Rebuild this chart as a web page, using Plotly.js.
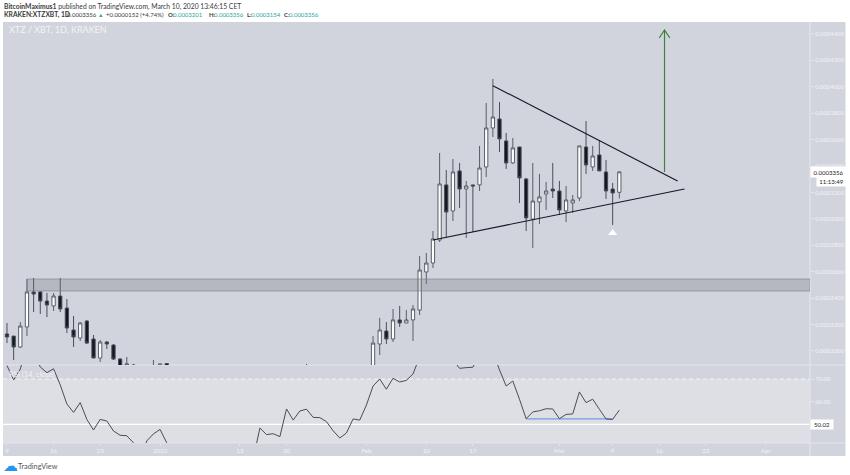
<!DOCTYPE html>
<html><head><meta charset="utf-8">
<script src="https://cdn.plot.ly/plotly-3.0.1.min.js"></script>
<style>html,body{margin:0;padding:0;background:#fff}#c{width:850px;height:475px}</style></head>
<body><div id="c"></div>
<script>
const candleDates=["2019-12-09","2019-12-10","2019-12-11","2019-12-12","2019-12-13","2019-12-14","2019-12-15","2019-12-16","2019-12-17","2019-12-18","2019-12-19","2019-12-20","2019-12-21","2019-12-22","2019-12-23","2019-12-24","2019-12-25","2019-12-26","2019-12-27","2019-12-28","2019-12-31","2020-01-01","2020-01-02","2020-01-23",
"2020-02-02","2020-02-03","2020-02-04","2020-02-05","2020-02-06","2020-02-07","2020-02-08","2020-02-09","2020-02-10","2020-02-11","2020-02-12","2020-02-13","2020-02-14","2020-02-15","2020-02-16","2020-02-17","2020-02-18","2020-02-19","2020-02-20","2020-02-21","2020-02-22","2020-02-23","2020-02-24","2020-02-25","2020-02-26","2020-02-27","2020-02-28","2020-02-29",
"2020-03-01","2020-03-02","2020-03-03","2020-03-04","2020-03-05","2020-03-06","2020-03-07","2020-03-08","2020-03-09","2020-03-10"];
const openVals=[.0002129,.0002113,.0002030,.0002182,.0002447,.0002447,.0002378,.0002341,.0002416,.0002325,.0002159,.0002098,.0002227,.0002091,.0001947,.0002068,.0002045,.0001939,.0001894,.0001894,.0001860,.0001860,.0001905,.0001860,
.0001860,.0002053,.0002151,.0002091,.0002235,.0002212,.0002235,.0002310,.0002598,.0002666,.0002840,.0003257,.0003060,.0003363,.0003226,.0003257,.0003257,.0003393,.0003688,.0003756,.0003590,.0003423,.0003544,.0003302,.0002999,.0003128,.0003188,.0003226,
.0003211,.0003060,.0003120,.0003158,.0003544,.0003393,.0003484,.0003355,.0003226,.0003201];
const highVals=[.0002212,.0002113,.0002219,.0002545,.0002553,.0002454,.0002439,.0002439,.0002553,.0002394,.0002265,.0002219,.0002235,.0002121,.0002083,.0002076,.0002053,.0001947,.0001955,.0001902,.0001932,.0001909,.0001909,.0001902,
.0002113,.0002250,.0002219,.0002318,.0002341,.0002310,.0002348,.0002719,.0002742,.0002908,.0003499,.0003370,.0003453,.0003423,.0003287,.0003257,.0003552,.0003877,.0004059,.0003885,.0003650,.0003612,.0003544,.0003310,.0003423,.0003340,.0003279,.0003423,
.0003287,.0003249,.0003181,.0003552,.0003741,.0003552,.0003590,.0003446,.0003272,.0003356];
const lowVals=[.0002060,.0001932,.0002023,.0002113,.0002295,.0002280,.0002257,.0002303,.0002295,.0002136,.0002030,.0002076,.0002053,.0001947,.0001917,.0002015,.0001932,.0001841,.0001871,.0001856,.0001840,.0001850,.0001850,.0001850,
.0001840,.0001970,.0002053,.0002068,.0002182,.0002212,.0002076,.0002272,.0002507,.0002628,.0002825,.0002863,.0002984,.0003082,.0002855,.0002901,.0003211,.0003317,.0003620,.0003506,.0003378,.0003416,.0003120,.0002908,.0002780,.0002961,.0003067,.0003158,
.0003029,.0002976,.0003045,.0003135,.0003340,.0003363,.0003363,.0003151,.0002954,.0003154];
const closeVals=[.0002106,.0002030,.0002189,.0002447,.0002431,.0002378,.0002348,.0002416,.0002318,.0002174,.0002106,.0002212,.0002060,.0001947,.0002068,.0002053,.0001939,.0001856,.0001902,.0001886,.0001870,.0001902,.0001860,.0001880,
.0002060,.0002159,.0002091,.0002235,.0002212,.0002235,.0002318,.0002613,.0002666,.0002848,.0003264,.0003052,.0003355,.0003226,.0003249,.0003249,.0003385,.0003688,.0003771,.0003605,.0003423,.0003537,.0003310,.0003007,.0003135,.0003166,.0003211,.0003211,
.0003067,.0003143,.0003143,.0003552,.0003408,.0003476,.0003363,.0003211,.0003196,.0003356];
const rsiStart="2019-12-09";
const rsiVals=[75.9,69.6,74.4,85,81.9,75.3,72.8,74.5,67.4,59,55.3,59.6,52.2,47.5,52.2,51.5,47.1,45.2,45,41.9,34.3,42.7,45.8,47.8,41.9,
37,36,35,36,34,33,35,36,34,33,35,36,35,48.4,45.5,45.9,44.6,56.8,51.9,55.9,56.7,53.1,53,51.2,47.2,44,46.2,52.4,51.9,58.5,66.9,70,65.5,70.3,68.7,69.4,72.2,
79.7,80.6,81.9,87,85,78.4,74.7,75,75.2,80.6,85,81.9,74,66.9,69.1,61.1,52.5,55.5,56,56.9,56.8,52.5,54.4,54.6,64.3,59.6,61.1,56.7,52.4,52.2,56.3];
const upperTrendX=["2020-02-20","2020-03-18 18:00"], upperTrendY=[.0004008,.0003287];
const lowerTrendX=["2020-02-11","2020-03-19 19:00"], lowerTrendY=[.0002840,.0003226];
const arrowShaftX=["2020-03-16 19:00","2020-03-16 19:00"], arrowShaftY=[.0003355,.0004430];
const arrowHeadX=["2020-03-16 00:00","2020-03-16 19:00","2020-03-17 14:00"], arrowHeadY=[.0004370,.0004430,.0004370];
const signalX=["2020-03-09"], signalY=[.0002893];
const rsiFlatX=["2020-02-25","2020-03-09"], rsiFlatY=[52.4,52.4];
const zoneLow=.0002454, zoneHigh=.0002545, zoneStart="2019-12-12";
const priceTicks=[.0002,.00022,.00024,.00026,.00028,.0003,.00032,.00034,.00036,.00038,.0004,.00042,.00044];
const rsiTicks=[60,70], rsiTickText=["60.00","70.00"];
const dateTicks=["2019-12-09","2019-12-16","2019-12-23","2020-01-01","2020-01-13","2020-01-20","2020-02-01","2020-02-10","2020-02-17","2020-03-01","2020-03-09","2020-03-16","2020-03-23","2020-04-01"];
const dateTickText=["9","16","23","2020","13","20","Feb","10","17","Mar","9","16","23","Apr"];
const lastPrice="0.0003356", countdown="11:13:49", lastRsi="50.02";

const rsiDates=rsiVals.map((_,i)=>{const d=new Date(rsiStart+"T00:00:00Z");d.setUTCDate(d.getUTCDate()+i);return d.toISOString().slice(0,10);});

const L=3,R=810.5,T=22,B=443,SPLIT=365;
const px=x=>(x-L)/(R-L), py=y=>(B-y)/(B-T);
const FONT='Lato, "Open Sans", sans-serif', TXT='#f2f3f6', LINE='#e3e5ec', BG='#d1d4dc';
const lineTrace=(x,y,color,w,ya)=>({type:'scatter',mode:'lines',x,y,yaxis:ya||'y',line:{color,width:w,simplify:false},hoverinfo:'skip',showlegend:false});
const data=[
 {type:'candlestick',x:candleDates,open:openVals,high:highVals,low:lowVals,close:closeVals,xaxis:'x',yaxis:'y',
  increasing:{line:{color:'#5a5d68',width:1},fillcolor:'#ffffff'},
  decreasing:{line:{color:'#4a4d58',width:1},fillcolor:'#131722'},whiskerwidth:0,hoverinfo:'skip',showlegend:false},
 lineTrace(upperTrendX,upperTrendY,'#131722',1.1),
 lineTrace(lowerTrendX,lowerTrendY,'#131722',1.1),
 lineTrace(arrowShaftX,arrowShaftY,'#3f7f3f',1.2),
 lineTrace(arrowHeadX,arrowHeadY,'#3f7f3f',1.1),
 {type:'scatter',mode:'markers',x:signalX,y:signalY,marker:{symbol:'triangle-up',color:'#ffffff',size:8},hoverinfo:'skip',showlegend:false},
 lineTrace(rsiFlatX,rsiFlatY,'#6f9ee8',1.2,'y2'),
 lineTrace(rsiDates,rsiVals,'#4a4c55',1,'y2')
];
const rect=(x0,x1,y0,y1,c)=>({type:'rect',xref:'paper',yref:'paper',x0:px(x0),x1:px(x1),y0:py(y0),y1:py(y1),fillcolor:c,line:{width:0},layer:'below'});
const seg=(x0,x1,y0,y1)=>({type:'line',xref:'paper',yref:'paper',x0:px(x0),x1:px(x1),y0:py(y0),y1:py(y1),line:{color:LINE,width:1.2},layer:'below'});
const shapes=[
 rect(R,846,T,456,BG), rect(L,R,B,456,BG),
 {type:'rect',xref:'paper',yref:'y2',x0:0,x1:1,y0:41.8,y1:70,fillcolor:'#dedfe5',line:{width:0},layer:'below'},
 {type:'line',xref:'paper',yref:'y2',x0:0,x1:1,y0:70,y1:70,line:{color:'#f4f5f7',width:1,dash:'4px,3px'},layer:'below'},
 {type:'line',xref:'paper',yref:'y2',x0:0,x1:1,y0:50,y1:50,line:{color:'#ffffff',width:1.4},layer:'below'},
 seg(L,846,SPLIT,SPLIT), seg(L,846,B,B), seg(R,R,T,456),
 {type:'rect',xref:'x',yref:'y',x0:zoneStart,x1:"2020-04-07 15:36",y0:zoneLow,y1:zoneHigh,fillcolor:'rgba(120,123,134,0.32)',line:{color:'rgba(120,123,134,0.6)',width:1},layer:'above'}
];
const note=(x,y,text,o)=>Object.assign({xref:'paper',yref:'paper',x:px(x),y:py(y),text,showarrow:false,xanchor:'left',yanchor:'middle',borderpad:0,font:{family:FONT,size:7,color:'#444'}},o||{});
const UP='#26a69a', INK='#3a3a3a';
const hdr=(x,text,size,color)=>note(x,15,text,{font:{family:FONT,size,color}});
const box=(x,y,w,h,text,size)=>note(x,y,text,{bgcolor:'#ffffff',width:w,height:h,align:'center',valign:'middle',font:{family:FONT,size,color:'#222'}});
const annotations=[
 note(3,6,'<b>BitcoinMaximus1</b> published on TradingView.com, March 10, 2020 13:46:15 CET',{font:{family:FONT,size:6.75,color:INK}}),
 hdr(3,'<b>KRAKEN:XTZXBT, 1D</b>',6.7,INK),
 hdr(66,'0.0003356',6,INK),
 hdr(97,'▲',5.5,UP),
 hdr(105,'+0.0000152 (+4.74%)',6,INK),
 hdr(167,'<b>O:</b>',6,INK), hdr(172,'0.0003201',6,UP),
 hdr(208,'<b>H:</b>',6,INK), hdr(213,'0.0003356',6,UP),
 hdr(246,'<b>L:</b>',6,INK), hdr(250,'0.0003154',6,UP),
 hdr(283,'<b>C:</b>',6,INK), hdr(288,'0.0003356',6,UP),
 note(8,30,'XTZ / XBT, 1D, KRAKEN',{font:{family:FONT,size:9,color:TXT}}),
 note(8,374,'RSI (14, close)',{font:{family:FONT,size:7.5,color:TXT}}),
 box(811,172,35,10,lastPrice,6),
 box(817,181,29,9,countdown,6),
 box(811,424.3,22,9,lastRsi,6),
 note(2,466,'☁',{font:{family:'DejaVu Sans',size:15,color:'#2196f3'}}),
 note(17,466,'TradingView',{font:{family:FONT,size:7.3,color:'#555'}})
];
const layout={width:850,height:475,margin:{l:L,r:850-R,t:T,b:475-B,pad:0},paper_bgcolor:'#ffffff',plot_bgcolor:BG,showlegend:false,dragmode:false,
 font:{family:FONT,size:7,color:TXT},
 xaxis:{type:'date',anchor:'y2',range:["2019-12-08 09:36","2020-04-07 15:36"],rangeslider:{visible:false},showgrid:false,zeroline:false,showline:false,
   tickmode:'array',tickvals:dateTicks,ticktext:dateTickText,tickfont:{family:FONT,size:6.2,color:TXT},ticks:'outside',ticklen:2,tickcolor:LINE,tickangle:0},
 yaxis:{domain:[py(SPLIT),1],anchor:'x',side:'right',range:[.0001894,.000449],showgrid:false,zeroline:false,showline:false,
   tickmode:'array',tickvals:priceTicks,tickformat:'.7f',tickfont:{family:FONT,size:5.9,color:TXT},ticks:'outside',ticklen:3,tickcolor:LINE},
 yaxis2:{domain:[0,py(SPLIT)],anchor:'x',side:'right',range:[41.8,76.17],showgrid:false,zeroline:false,showline:false,
   tickmode:'array',tickvals:rsiTicks,ticktext:rsiTickText,tickfont:{family:FONT,size:5.9,color:TXT},ticks:'outside',ticklen:3,tickcolor:LINE},
 shapes,annotations};
Plotly.newPlot('c',data,layout,{displayModeBar:false,staticPlot:true});
</script></body></html>
